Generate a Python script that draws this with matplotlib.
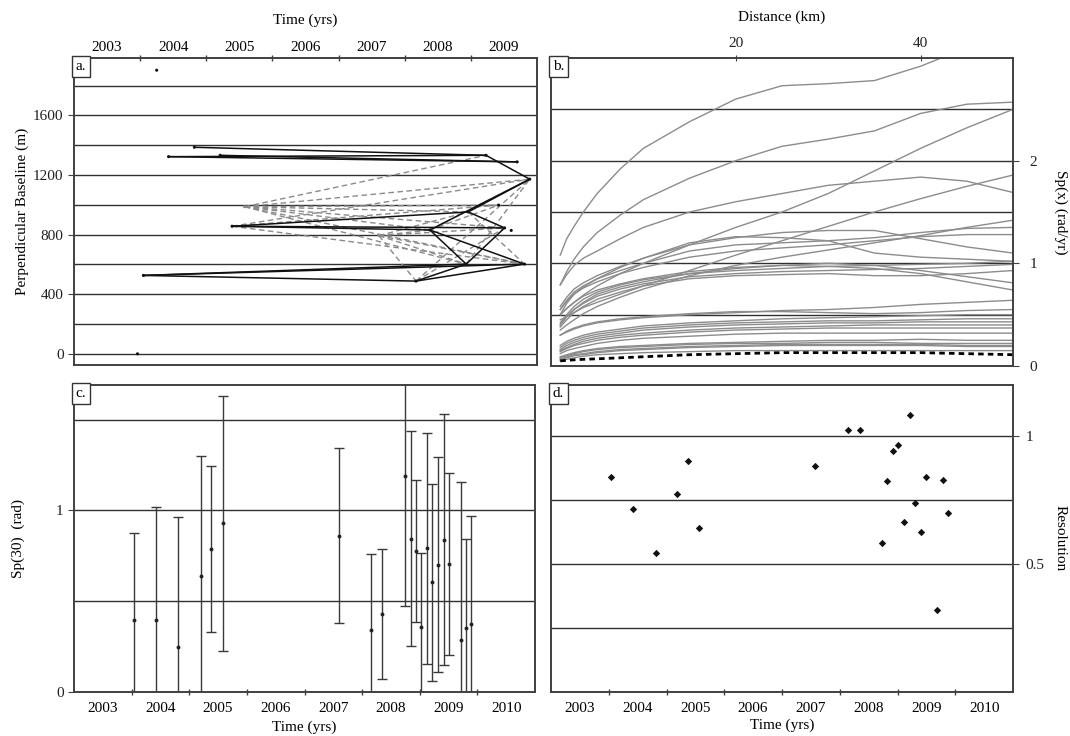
import matplotlib
matplotlib.use('Agg')
import matplotlib.pyplot as plt
from matplotlib.ticker import FixedLocator, NullFormatter

plt.rcParams['font.family'] = ['Liberation Serif', 'DejaVu Serif']
plt.rcParams['font.size'] = 11

# ---------------- Panel a: baseline network ----------------
acq_time = [2003.96, 2004.25, 2004.05, 2004.43, 2004.82, 2005.21, 2005.39, 2005.58,
            2007.61, 2008.17, 2008.38, 2008.93, 2008.96, 2009.23, 2009.42, 2009.51,
            2009.61, 2009.70, 2009.81, 2009.89]
acq_bperp = [0, 1903, 526, 1323, 1386, 1332, 856, 987,
             793, 488, 831, 602, 952, 1332, 998, 845,
             828, 1288, 602, 1172]
solid_pairs = [(2, 9), (2, 11), (2, 18), (3, 17), (3, 13), (4, 13), (5, 17),
               (13, 19), (19, 12), (19, 10), (6, 12), (6, 15), (6, 10),
               (12, 15), (10, 11), (10, 18), (11, 15), (9, 11), (9, 18)]
dashed_pairs = [(7, 10), (7, 11), (7, 12), (7, 14), (7, 15), (7, 18), (7, 19),
                (7, 13), (6, 14), (6, 18), (6, 19), (8, 9), (8, 10), (8, 11),
                (8, 15), (8, 18), (8, 12), (9, 19), (11, 19), (10, 14),
                (12, 18), (10, 19), (9, 15)]
gray_points = [7, 8]
bperp_grid = [0, 200, 400, 600, 800, 1000, 1200, 1400, 1600, 1800]
bperp_labels = [0, 400, 800, 1200, 1600]
years_a = [2003, 2004, 2005, 2006, 2007, 2008, 2009]

# ---------------- Panel b: Sp(x) curves ----------------
dist_km = [1, 1.7, 2.5, 3.5, 5, 7.5, 10, 15, 20, 25, 30, 35, 40, 45, 50]
sp_upper = [
    [1.08, 1.24, 1.36, 1.50, 1.68, 1.92, 2.12, 2.38, 2.60, 2.73, 2.75, 2.78, 2.92, 3.10, 3.25],
    [0.79, 0.92, 1.04, 1.16, 1.30, 1.47, 1.62, 1.83, 2.00, 2.14, 2.21, 2.29, 2.46, 2.55, 2.57],
    [0.50, 0.56, 0.62, 0.69, 0.78, 0.90, 1.00, 1.18, 1.35, 1.50, 1.68, 1.90, 2.12, 2.32, 2.50],
    [0.79, 0.89, 0.98, 1.05, 1.12, 1.24, 1.35, 1.50, 1.60, 1.68, 1.76, 1.80, 1.84, 1.80, 1.69],
    [0.45, 0.48, 0.52, 0.57, 0.62, 0.70, 0.78, 0.93, 1.08, 1.22, 1.36, 1.50, 1.63, 1.75, 1.86],
]
sp_middle = [
    [0.58, 0.67, 0.75, 0.81, 0.88, 0.97, 1.05, 1.18, 1.25, 1.30, 1.32, 1.32, 1.24, 1.16, 1.10],
    [0.35, 0.40, 0.45, 0.51, 0.58, 0.67, 0.75, 0.88, 0.98, 1.06, 1.13, 1.20, 1.27, 1.35, 1.42],
    [0.55, 0.64, 0.72, 0.78, 0.85, 0.93, 1.00, 1.12, 1.18, 1.20, 1.22, 1.25, 1.30, 1.34, 1.35],
    [0.55, 0.63, 0.70, 0.76, 0.82, 0.90, 0.96, 1.06, 1.12, 1.15, 1.18, 1.22, 1.26, 1.28, 1.28],
    [0.50, 0.61, 0.70, 0.77, 0.85, 0.96, 1.05, 1.20, 1.26, 1.25, 1.22, 1.10, 1.06, 1.04, 1.02],
    [0.40, 0.48, 0.55, 0.61, 0.68, 0.75, 0.80, 0.87, 0.90, 0.92, 0.93, 0.94, 0.95, 0.97, 0.99],
    [0.42, 0.50, 0.58, 0.65, 0.72, 0.79, 0.84, 0.90, 0.93, 0.95, 0.97, 0.98, 0.99, 1.00, 1.02],
    [0.40, 0.48, 0.55, 0.62, 0.70, 0.77, 0.82, 0.90, 0.95, 0.98, 1.00, 0.98, 0.93, 0.87, 0.81],
    [0.50, 0.56, 0.62, 0.68, 0.74, 0.80, 0.85, 0.92, 0.96, 0.98, 0.97, 0.95, 0.90, 0.82, 0.74],
    [0.38, 0.45, 0.52, 0.58, 0.65, 0.72, 0.78, 0.85, 0.88, 0.89, 0.90, 0.88, 0.88, 0.90, 0.93],
]
sp_lower = [
    [0.30, 0.33, 0.36, 0.39, 0.42, 0.45, 0.47, 0.50, 0.52, 0.54, 0.55, 0.57, 0.60, 0.62, 0.64],
    [0.30, 0.34, 0.37, 0.40, 0.43, 0.46, 0.48, 0.51, 0.53, 0.53, 0.52, 0.51, 0.52, 0.54, 0.55],
    [0.20, 0.24, 0.27, 0.30, 0.33, 0.36, 0.39, 0.42, 0.44, 0.46, 0.47, 0.48, 0.49, 0.50, 0.50],
    [0.18, 0.22, 0.25, 0.28, 0.31, 0.34, 0.37, 0.40, 0.42, 0.43, 0.44, 0.44, 0.45, 0.46, 0.46],
    [0.16, 0.20, 0.23, 0.26, 0.29, 0.32, 0.35, 0.38, 0.40, 0.41, 0.42, 0.42, 0.43, 0.43, 0.43],
    [0.15, 0.18, 0.21, 0.24, 0.27, 0.30, 0.32, 0.35, 0.37, 0.38, 0.39, 0.40, 0.40, 0.40, 0.40],
    [0.14, 0.17, 0.20, 0.22, 0.25, 0.28, 0.30, 0.33, 0.35, 0.36, 0.37, 0.37, 0.37, 0.37, 0.37],
    [0.12, 0.15, 0.17, 0.19, 0.22, 0.25, 0.27, 0.29, 0.31, 0.32, 0.32, 0.32, 0.32, 0.32, 0.32],
    [0.09, 0.11, 0.13, 0.15, 0.17, 0.19, 0.20, 0.22, 0.23, 0.24, 0.25, 0.25, 0.26, 0.25, 0.25],
    [0.08, 0.10, 0.12, 0.14, 0.16, 0.18, 0.19, 0.21, 0.22, 0.22, 0.23, 0.23, 0.22, 0.22, 0.22],
    [0.07, 0.09, 0.11, 0.12, 0.14, 0.16, 0.17, 0.19, 0.20, 0.21, 0.21, 0.21, 0.21, 0.20, 0.20],
    [0.06, 0.08, 0.10, 0.11, 0.13, 0.15, 0.16, 0.18, 0.19, 0.20, 0.20, 0.20, 0.20, 0.19, 0.19],
    [0.05, 0.065, 0.08, 0.095, 0.11, 0.12, 0.13, 0.14, 0.15, 0.15, 0.15, 0.15, 0.15, 0.15, 0.15],
]
sp_mean = [0.05, 0.055, 0.06, 0.065, 0.07, 0.08, 0.09, 0.11, 0.12, 0.13, 0.13, 0.13, 0.13, 0.12, 0.11]
sp_grid = [0.5, 1.0, 1.5, 2.0, 2.5]
sp_labels = [0, 1, 2]
dist_labels = [20, 40]

# ---------------- Panels c & d ----------------
ifg_time = [2004.04, 2004.43, 2004.81, 2005.20, 2005.38, 2005.59, 2007.60, 2008.16,
            2008.35, 2008.74, 2008.84, 2008.94, 2009.03, 2009.13, 2009.22, 2009.32,
            2009.42, 2009.51, 2009.71, 2009.80, 2009.89]
sp30 = [0.396, 0.399, 0.247, 0.636, 0.788, 0.930, 0.861, 0.341,
        0.430, 1.189, 0.844, 0.778, 0.359, 0.791, 0.604, 0.700,
        0.839, 0.705, 0.284, 0.350, 0.372]
sp30_err = [0.481, 0.619, 0.715, 0.661, 0.457, 0.702, 0.483, 0.417,
            0.356, 0.713, 0.592, 0.391, 0.407, 0.635, 0.543, 0.591,
            0.692, 0.501, 0.874, 0.492, 0.597]
ifg_time_d = [2004.04, 2004.42, 2004.81, 2005.19, 2005.37, 2005.57, 2007.58, 2008.15,
              2008.35, 2008.73, 2008.82, 2008.92, 2009.01, 2009.11, 2009.21, 2009.30,
              2009.40, 2009.50, 2009.69, 2009.79, 2009.88]
resolution = [0.842, 0.717, 0.543, 0.773, 0.903, 0.642, 0.883, 1.026,
              1.026, 0.581, 0.824, 0.941, 0.965, 0.666, 1.082, 0.738,
              0.624, 0.841, 0.322, 0.829, 0.701]
years_cd = [2003, 2004, 2005, 2006, 2007, 2008, 2009, 2010]
sp30_grid = [0.5, 1.0, 1.5]
sp30_labels = [0, 1]
res_grid = [0.25, 0.5, 0.75, 1.0]
res_labels = [0.5, 1]

# ---------------- Figure ----------------
W, H = 1070, 736
fig = plt.figure(figsize=(W / 100, H / 100), dpi=100)


def rect(l, r, t, b):
    return [l / W, 1 - b / H, (r - l) / W, (b - t) / H]


ax_a = fig.add_axes(rect(74, 537, 58, 365))
ax_b = fig.add_axes(rect(551, 1013, 58, 366))
ax_c = fig.add_axes(rect(74, 535, 385, 692))
ax_d = fig.add_axes(rect(551, 1013, 385, 692))

spine_col = '#404040'
grid_col = '#303030'
for ax in (ax_a, ax_b, ax_c, ax_d):
    for s in ax.spines.values():
        s.set_color(spine_col)
        s.set_linewidth(1.4)
    ax.tick_params(colors=spine_col, labelcolor='#202020', labelsize=11)


def panel_label(ax, txt):
    ax.text(0.004, 0.994, txt, transform=ax.transAxes, ha='left', va='top',
            fontsize=11, zorder=10,
            bbox=dict(boxstyle='square,pad=0.25', fc='white', ec='#333333', lw=1.0))


def year_axis(ax, years, top=False):
    ax.set_xlim(years[0], years[-1] + 1)
    ax.xaxis.set_major_locator(FixedLocator(years[1:]))
    ax.xaxis.set_major_formatter(NullFormatter())
    ax.xaxis.set_minor_locator(FixedLocator([y + 0.5 for y in years]))
    ax.set_xticklabels([str(y) for y in years], minor=True)
    ax.tick_params(axis='x', which='major', direction='inout', length=5, width=1)
    ax.tick_params(axis='x', which='minor', length=0, pad=3 if top else 7, labelsize=11)
    if top:
        ax.xaxis.tick_top()
        ax.xaxis.set_label_position('top')


# ---- panel a ----
for y in bperp_grid:
    ax_a.axhline(y, color=grid_col, lw=1.0, zorder=0.5)
for i, j in dashed_pairs:
    ax_a.plot([acq_time[i], acq_time[j]], [acq_bperp[i], acq_bperp[j]],
              color='#8a8a8a', lw=1.0, ls=(0, (4, 2.5)), zorder=1)
for i, j in solid_pairs:
    ax_a.plot([acq_time[i], acq_time[j]], [acq_bperp[i], acq_bperp[j]],
              color='#111111', lw=1.1, zorder=2)
pt_cols = ['#8a8a8a' if k in gray_points else '#111111' for k in range(len(acq_time))]
ax_a.scatter(acq_time, acq_bperp, s=5, c=pt_cols, zorder=3, linewidths=0)
year_axis(ax_a, years_a, top=True)
ax_a.set_ylim(-75, 1985)
ax_a.set_yticks(bperp_labels)
ax_a.tick_params(axis='y', direction='out', length=4)
ax_a.set_ylabel('Perpendicular Baseline (m)', fontsize=11, labelpad=3)
ax_a.set_xlabel('Time (yrs)', fontsize=11, labelpad=12)
panel_label(ax_a, 'a.')

# ---- panel b ----
for y in sp_grid:
    ax_b.axhline(y, color=grid_col, lw=1.0, zorder=0.5)
for group in (sp_upper, sp_middle, sp_lower):
    for curve in group:
        ax_b.plot(dist_km, curve, color='#8c8c8c', lw=1.0, zorder=1)
ax_b.plot(dist_km, sp_mean, color='black', lw=2.0, ls=(0, (2, 1.5)), zorder=2)
ax_b.set_xlim(0, 50)
ax_b.set_ylim(0, 3)
ax_b.xaxis.tick_top()
ax_b.xaxis.set_label_position('top')
ax_b.set_xticks(dist_labels)
ax_b.tick_params(axis='x', direction='inout', length=5, pad=3)
ax_b.yaxis.tick_right()
ax_b.yaxis.set_label_position('right')
ax_b.set_yticks(sp_labels)
ax_b.tick_params(axis='y', direction='out', length=4, pad=8)
ax_b.set_xlabel('Distance (km)', fontsize=11, labelpad=12)
ax_b.set_ylabel('Sp(x) (rad/yr)', fontsize=11, rotation=270, labelpad=22)
panel_label(ax_b, 'b.')

# ---- panel c ----
for y in sp30_grid:
    ax_c.axhline(y, color=grid_col, lw=1.0, zorder=0.5)
ax_c.errorbar(ifg_time, sp30, yerr=sp30_err, fmt='o', ms=1.8, color='#222222',
              ecolor='#3a3a3a', elinewidth=1.0, capsize=3.5, capthick=1.0, zorder=2)
year_axis(ax_c, years_cd)
ax_c.set_ylim(0, 1.69)
ax_c.set_yticks(sp30_labels)
ax_c.tick_params(axis='y', direction='out', length=4)
ax_c.set_ylabel('Sp(30)  (rad)', fontsize=11, labelpad=22)
ax_c.set_xlabel('Time (yrs)', fontsize=11, labelpad=4)
panel_label(ax_c, 'c.')

# ---- panel d ----
for y in res_grid:
    ax_d.axhline(y, color=grid_col, lw=1.0, zorder=0.5)
ax_d.scatter(ifg_time_d, resolution, marker='D', s=14, color='#111111', zorder=3,
             linewidths=0)
year_axis(ax_d, years_cd)
ax_d.set_ylim(0, 1.2)
ax_d.yaxis.tick_right()
ax_d.yaxis.set_label_position('right')
ax_d.set_yticks(res_labels)
ax_d.set_yticklabels(['0.5', '1'])
ax_d.tick_params(axis='y', direction='out', length=4, pad=5)
ax_d.set_ylabel('Resolution', fontsize=11, rotation=270, labelpad=16)
ax_d.set_xlabel('Time (yrs)', fontsize=11, labelpad=3)
panel_label(ax_d, 'd.')

fig.savefig('out.png', dpi=100)
